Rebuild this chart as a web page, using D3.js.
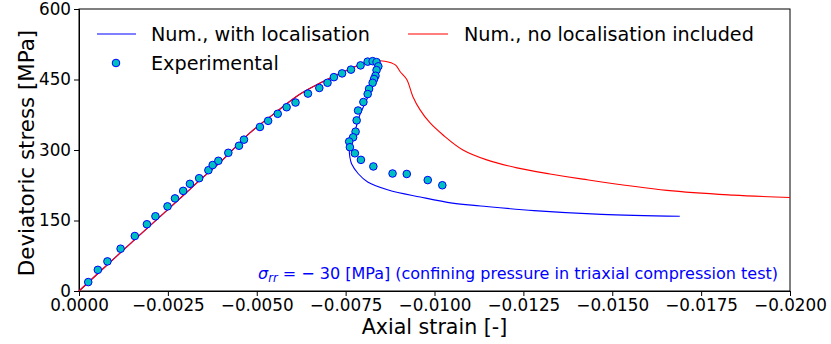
<!DOCTYPE html>
<html lang="en">
<head>
<meta charset="UTF-8">
<title>Deviatoric stress vs axial strain</title>
<style>
    body { margin: 0; background: #fff; }
    text { font-family: "DejaVu Sans", sans-serif; }
    .axis path, .axis line { stroke: #000; }
</style>
</head>
<body>
<div id="chart"></div>
<script src="https://cdn.jsdelivr.net/npm/d3@7/dist/d3.min.js"></script>
<script>
    // axial strain (-), deviatoric stress (MPa)
    var redStrain = [0, -0.001, -0.002, -0.003, -0.0034, -0.004, -0.0048, -0.0055, -0.0062, -0.0068, -0.0072, -0.0076, -0.0080, -0.0083, -0.0086, -0.0089, -0.00903, -0.00922, -0.00939, -0.00959, -0.00987, -0.01024, -0.0108, -0.01147, -0.01232, -0.01325, -0.01417, -0.01654, -0.01839, -0.0200];
    var redStress = [0, 70, 139, 208, 236, 276, 336, 378, 418, 443, 458, 472, 484, 489, 489, 481, 467, 450, 414, 386, 358, 332, 300, 279, 262, 249, 238, 214, 204, 199];

    var blueStrain = [0, -0.001, -0.002, -0.003, -0.0034, -0.004, -0.0048, -0.0055, -0.0062, -0.0068, -0.0072, -0.0076, -0.0080, -0.0083, -0.00845, -0.00846, -0.0084, -0.00832, -0.0082, -0.00805, -0.0079, -0.0078, -0.00772, -0.0076, -0.0076, -0.00762, -0.00767, -0.00785, -0.00812, -0.0087, -0.0096, -0.0105, -0.0113, -0.0128, -0.0147, -0.0169];
    var blueStress = [0, 70, 139, 208, 236, 276, 336, 378, 418, 443, 458, 472, 484, 488, 484, 475, 460, 445, 425, 400, 375, 350, 330, 315, 300, 285, 270, 250, 232, 215, 200, 187, 181, 171, 163, 159];

    var expStrain = [-0.00026, -0.00053, -0.00080, -0.00117, -0.00157, -0.00191, -0.00215, -0.00249, -0.00270, -0.00293, -0.00312, -0.00338, -0.00364, -0.00376, -0.00392, -0.00420, -0.00450, -0.00464, -0.00509, -0.00532, -0.00559, -0.00584, -0.00609, -0.00644, -0.00676, -0.00699, -0.00717, -0.00740, -0.00765, -0.00792, -0.00812, -0.00826, -0.00837, -0.00842, -0.00837, -0.00834, -0.00830, -0.00826, -0.00816, -0.00812, -0.00800, -0.00785, -0.00781, -0.00778, -0.00771, -0.00760, -0.00762, -0.00776, -0.00793, -0.00828, -0.00882, -0.00922, -0.00981, -0.01022];
    var expStress = [19, 45, 63, 90, 117, 142, 159, 180, 197, 213, 228, 240, 257, 268, 277, 294, 309, 322, 349, 362, 377, 391, 401, 420, 432, 443, 455, 463, 471, 480, 488, 489, 487, 478, 470, 458, 451, 443, 430, 419, 402, 384, 363, 339, 327, 318, 306, 293, 279, 265, 250, 249, 236, 225];

    var xTicks = [0, -0.0025, -0.005, -0.0075, -0.01, -0.0125, -0.015, -0.0175, -0.02];
    var yTicks = [0, 150, 300, 450, 600];

    var width = 831, height = 344;
    var margin = {left: 79, right: 41, top: 9, bottom: 53};

    var svg = d3.select("#chart").append("svg")
        .attr("width", width)
        .attr("height", height);

    var x = d3.scaleLinear().domain([0, -0.02]).range([margin.left, width - margin.right]);
    var y = d3.scaleLinear().domain([0, 600]).range([height - margin.bottom, margin.top]);

    var minus = function (s) { return s.replace("-", "\u2212"); };

    // axes
    svg.append("g")
        .attr("class", "axis")
        .attr("transform", "translate(0," + y(0) + ")")
        .call(d3.axisBottom(x).tickValues(xTicks).tickSize(5).tickPadding(3)
            .tickFormat(function (d) { return minus(d3.format(".4f")(d)); }))
        .selectAll("text").style("font-size", "16.8px").attr("fill", "#000");

    svg.append("g")
        .attr("class", "axis")
        .attr("transform", "translate(" + x(0) + ",0)")
        .call(d3.axisLeft(y).tickValues(yTicks).tickSize(5).tickPadding(3))
        .selectAll("text").style("font-size", "16.8px").attr("fill", "#000");

    // frame
    svg.append("rect")
        .attr("x", x(0)).attr("y", y(600))
        .attr("width", x(-0.02) - x(0)).attr("height", y(0) - y(600))
        .attr("fill", "none").attr("stroke", "#000").attr("stroke-width", 1);

    var lineX = d3.line()
        .x(function (d) { return x(d[0]); })
        .y(function (d) { return y(d[1]); })
        .curve(d3.curveCatmullRom);

    var blue = blueStrain.map(function (s, i) { return [s, blueStress[i]]; });
    var red = redStrain.map(function (s, i) { return [s, redStress[i]]; });

    svg.append("path").attr("d", lineX(blue))
        .attr("fill", "none").attr("stroke", "#0000ff").attr("stroke-width", 1.1);
    svg.append("path").attr("d", lineX(red))
        .attr("fill", "none").attr("stroke", "#ff0000").attr("stroke-width", 1.1);

    svg.append("g").selectAll("circle")
        .data(expStrain.map(function (s, i) { return [s, expStress[i]]; }))
        .enter().append("circle")
        .attr("cx", function (d) { return x(d[0]); })
        .attr("cy", function (d) { return y(d[1]); })
        .attr("r", 3.8)
        .attr("fill", "#00bfbf")
        .attr("stroke", "#0000ff")
        .attr("stroke-width", 1);

    // legend
    var leg = svg.append("g").style("font-size", "19.2px");
    leg.append("line").attr("x1", 97).attr("x2", 136).attr("y1", 34).attr("y2", 34)
        .attr("stroke", "#0000ff").attr("stroke-width", 1.1);
    leg.append("text").attr("x", 151).attr("y", 41).text("Num., with localisation");
    leg.append("circle").attr("cx", 116).attr("cy", 63).attr("r", 3.8)
        .attr("fill", "#00bfbf").attr("stroke", "#0000ff");
    leg.append("text").attr("x", 151).attr("y", 70).text("Experimental");
    leg.append("line").attr("x1", 408).attr("x2", 448).attr("y1", 34).attr("y2", 34)
        .attr("stroke", "#ff0000").attr("stroke-width", 1.1);
    leg.append("text").attr("x", 464).attr("y", 41).text("Num., no localisation included");

    // annotation
    var ann = svg.append("text").attr("x", 778).attr("y", 279)
        .attr("text-anchor", "end").attr("fill", "#0000ff").style("font-size", "16px");
    ann.append("tspan").style("font-style", "italic").text("\u03c3");
    ann.append("tspan").style("font-style", "italic").style("font-size", "11.5px").attr("dy", 3).text("rr");
    ann.append("tspan").attr("dy", -3).text(" = \u2212 30 [MPa] (confining pressure in triaxial compression test)");

    // axis titles
    svg.append("text")
        .attr("x", (x(0) + x(-0.02)) / 2).attr("y", 334)
        .attr("text-anchor", "middle").style("font-size", "20.6px")
        .text("Axial strain [-]");
    svg.append("text")
        .attr("transform", "translate(34,153) rotate(-90)")
        .attr("text-anchor", "middle").style("font-size", "21.4px")
        .text("Deviatoric stress [MPa]");
</script>
</body>
</html>
